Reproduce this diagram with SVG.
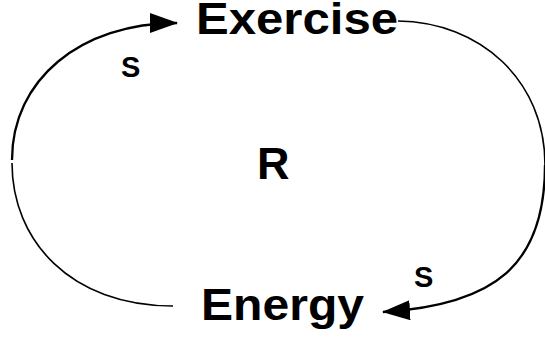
<svg xmlns="http://www.w3.org/2000/svg" width="545" height="339" viewBox="0 0 545 339">
<defs>
<style>
.lbl{font-family:"Liberation Sans",Arial,sans-serif;font-weight:bold;fill:#000}
.big{font-size:45px}
.pol{font-size:29px}
.thin{fill:none;stroke:#000;stroke-width:1.6}
.thick{fill:none;stroke:#000;stroke-width:2.3}
</style>
<marker id="ah" viewBox="0 0 28 20" refX="27" refY="10" markerWidth="28" markerHeight="20" markerUnits="userSpaceOnUse" orient="auto">
<path d="M0,0 L28,10 L0,20 Z" fill="#000"/>
</marker>
</defs>
<rect width="545" height="339" fill="#fff"/>
<g id="connectors">
<path class="thin" d="M173,306 C70,306 12,240 12,163"/>
<path class="thick" d="M12,160 C12,80 80,23 177,23" marker-end="url(#ah)"/>
<path class="thin" d="M398,21 C480,22 545,80 545,165"/>
<path class="thick" d="M545,165 C545,265 495,305 383,312" marker-end="url(#ah)"/>
</g>
<g id="exercise"><text class="lbl big" x="196" y="34" textLength="202" lengthAdjust="spacingAndGlyphs">Exercise</text></g>
<g id="energy"><text class="lbl big" x="201" y="320" textLength="163" lengthAdjust="spacingAndGlyphs">Energy</text></g>
<g id="loop"><text class="lbl big" x="257" y="179">R</text></g>
<g id="pol1"><text class="lbl pol" x="121" y="77">S</text></g>
<g id="pol2"><text class="lbl pol" x="414" y="287">S</text></g>
</svg>
